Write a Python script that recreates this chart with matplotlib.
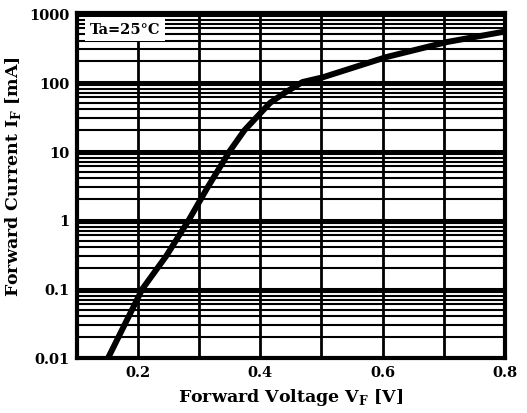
import matplotlib
matplotlib.use("Agg")
import matplotlib.pyplot as plt
from matplotlib.ticker import LogLocator, NullFormatter
import numpy as np

# forward characteristic
vf = [0.151, 0.207, 0.246, 0.283, 0.314, 0.350, 0.374, 0.416, 0.44, 0.469, 0.502, 0.606, 0.705, 0.80]
i_f = [0.01, 0.1, 0.3, 1.0, 3.0, 10.0, 20.0, 50.0, 70.0, 100.0, 117.0, 230.0, 380.0, 540.0]

x_ticks = [0.2, 0.4, 0.6, 0.8]
x_labels = ["0.2", "0.4", "0.6", "0.8"]
x_grid = [0.2, 0.3, 0.4, 0.5, 0.6, 0.7]
y_ticks = [0.01, 0.1, 1, 10, 100, 1000]
y_labels = ["0.01", "0.1", "1", "10", "100", "1000"]

plt.rcParams['font.family'] = ['DejaVu Serif']
plt.rcParams['font.weight'] = 'bold'

fig = plt.figure(figsize=(5.27, 4.14), dpi=100)
ax = fig.add_axes([0.146, 0.133, 0.812, 0.833])

ax.set_yscale('log')
ax.set_xlim(0.1, 0.8)
ax.set_ylim(0.01, 1000)

# grid ---------------------------------------------------------------
for x in x_grid:
    ax.axvline(x, color='black', lw=2.0, zorder=1)
ax.yaxis.set_minor_locator(LogLocator(base=10, subs=np.arange(2, 10)))
ax.yaxis.set_minor_formatter(NullFormatter())
ax.grid(True, which='major', axis='y', color='black', lw=2.2)
ax.grid(True, which='minor', axis='y', color='black', lw=1.5)

ax.plot(vf, i_f, color='black', lw=4.3, solid_capstyle='butt', zorder=3)

ax.set_xticks(x_ticks)
ax.set_xticklabels(x_labels)
ax.set_yticks(y_ticks)
ax.set_yticklabels(y_labels)
ax.tick_params(which='both', length=0, labelsize=10.5, pad=5)
for lab in ax.get_xticklabels() + ax.get_yticklabels():
    lab.set_fontweight('bold')

for sp in ax.spines.values():
    sp.set_linewidth(3)

ax.set_xlabel(r'Forward Voltage V$_\mathregular{F}$ [V]', fontsize=12.5,
              fontweight='bold', labelpad=5)
ax.set_ylabel(r'Forward Current I$_\mathregular{F}$ [mA]', fontsize=12.5,
              fontweight='bold')
ax.yaxis.set_label_coords(-0.125, 0.53)

ax.text(0.03, 0.975, 'Ta=25\u00b0C', transform=ax.transAxes, fontsize=10.5,
        fontweight='bold', va='top', ha='left', zorder=5,
        bbox=dict(boxstyle='square,pad=0.35', fc='white', ec='none'))

fig.savefig('out.png', dpi=100)
